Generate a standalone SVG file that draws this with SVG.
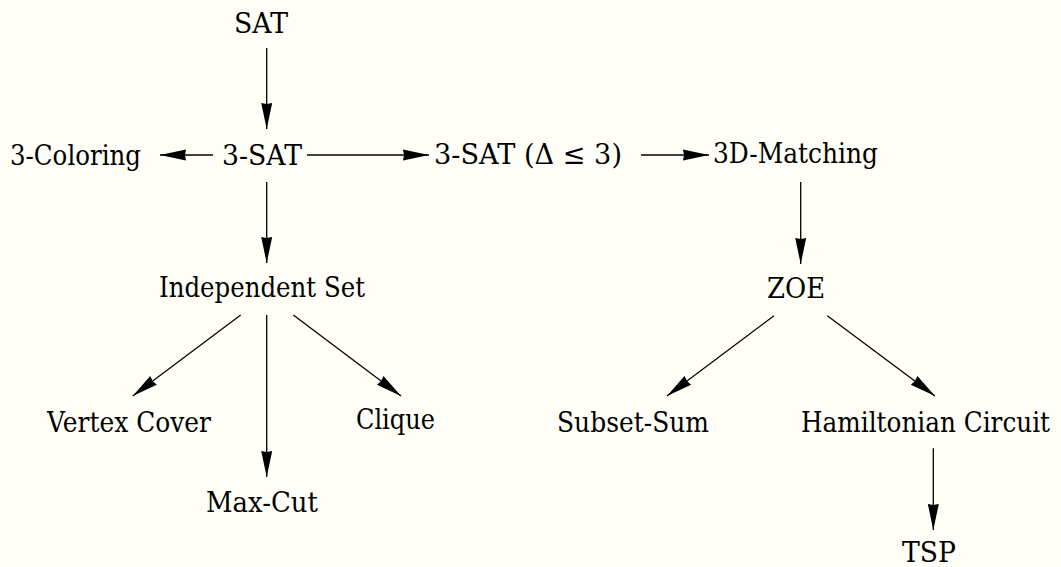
<svg xmlns="http://www.w3.org/2000/svg" width="1061" height="567" viewBox="0 0 1061 567">
<style>
text{font-family:'DejaVu Serif','Liberation Serif',serif;font-size:28.5px;fill:#000}
.c line{stroke:#000;stroke-width:1.3;fill:none;marker-end:url(#ah)}
</style>
<defs>
<marker id="ah" markerUnits="userSpaceOnUse" markerWidth="28" markerHeight="12" refX="26" refY="5.5" orient="auto" overflow="visible">
<path d="M0,0 L26,5.5 L0,11 L1,5.5 z" fill="#000"/>
</marker>
</defs>
<rect width="1061" height="567" fill="#fffff8"/>
<g class="c" id="connectors">
<line x1="266.7" y1="48" x2="266.7" y2="129"/>
<line x1="213" y1="155" x2="160" y2="155"/>
<line x1="307" y1="155" x2="429" y2="155"/>
<line x1="641" y1="155" x2="709" y2="155"/>
<line x1="266.7" y1="182" x2="266.7" y2="263"/>
<line x1="800.7" y1="182" x2="800.7" y2="264"/>
<line x1="240.7" y1="315" x2="132.7" y2="396"/>
<line x1="266.7" y1="315" x2="266.7" y2="477"/>
<line x1="293.3" y1="315" x2="401" y2="396"/>
<line x1="774" y1="315.7" x2="667" y2="396"/>
<line x1="827.3" y1="315.7" x2="935" y2="396"/>
<line x1="933.3" y1="448.3" x2="933.3" y2="530"/>
</g>
<g id="sat"><text x="234" y="32.5" textLength="54" lengthAdjust="spacingAndGlyphs">SAT</text></g>
<g id="three-sat"><text x="222" y="164.5" textLength="80" lengthAdjust="spacingAndGlyphs">3-SAT</text></g>
<g id="three-coloring"><text x="10" y="164.5" textLength="131" lengthAdjust="spacingAndGlyphs">3-Coloring</text></g>
<g id="three-sat-delta"><text x="434" y="163.5" textLength="188" lengthAdjust="spacingAndGlyphs">3-SAT (Δ ≤ 3)</text></g>
<g id="three-d-matching"><text x="713" y="163" textLength="165" lengthAdjust="spacingAndGlyphs">3D-Matching</text></g>
<g id="independent-set"><text x="159" y="297" textLength="206" lengthAdjust="spacingAndGlyphs">Independent Set</text></g>
<g id="zoe"><text x="767" y="298" textLength="58" lengthAdjust="spacingAndGlyphs">ZOE</text></g>
<g id="vertex-cover"><text x="47" y="432" textLength="164" lengthAdjust="spacingAndGlyphs">Vertex Cover</text></g>
<g id="clique"><text x="356" y="428.5" textLength="79" lengthAdjust="spacingAndGlyphs">Clique</text></g>
<g id="max-cut"><text x="206" y="512" textLength="112" lengthAdjust="spacingAndGlyphs">Max-Cut</text></g>
<g id="subset-sum"><text x="557" y="432" textLength="152" lengthAdjust="spacingAndGlyphs">Subset-Sum</text></g>
<g id="hamiltonian-circuit"><text x="801" y="432" textLength="249" lengthAdjust="spacingAndGlyphs">Hamiltonian Circuit</text></g>
<g id="tsp"><text x="902" y="562" textLength="54" lengthAdjust="spacingAndGlyphs">TSP</text></g>
</svg>
